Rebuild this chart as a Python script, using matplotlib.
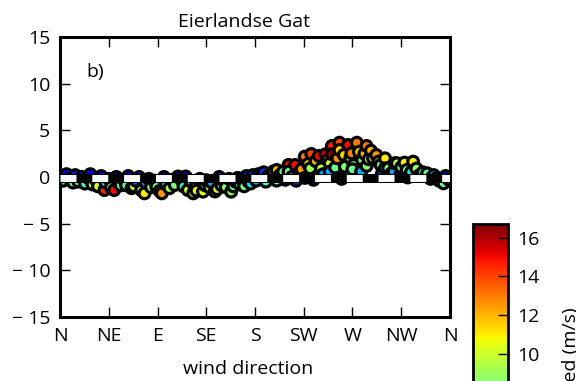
import numpy as np
import matplotlib
matplotlib.use('Agg')
import matplotlib.pyplot as plt

plt.rcParams['font.family'] = ['Open Sans', 'DejaVu Sans']
plt.rcParams['font.size'] = 14
plt.rcParams['lines.scale_dashes'] = False

title = 'Eierlandse Gat'
dir_labels = ['N', 'NE', 'E', 'SE', 'S', 'SW', 'W', 'NW', 'N']
dir_ticks = [0, 45, 90, 135, 180, 225, 270, 315, 360]
y_ticks = [15, 10, 5, 0, -5, -10, -15]
y_labels = ['15', '10', '5', '0', '\u2212 5', '\u2212 10', '\u2212 15']
cb_ticks = [8, 10, 12, 14, 16]

# wind direction (deg), value, wind speed (m/s)
direction = [1, 3, 6, 9, 12, 14, 17, 20, 23, 26, 28, 30, 33, 35, 38, 41, 42, 45, 47, 50, 52, 54,
             56, 59, 61, 63, 66, 68, 70, 73, 75, 78, 79, 82, 84, 87, 89, 92, 94, 96, 98,
             101, 103, 106, 109, 112, 114, 116, 118, 121, 123, 125, 126, 129, 132, 134, 135, 138, 140, 143, 145,
             147, 149, 151, 153, 156, 158, 160, 162, 164, 166, 168, 170, 172, 174, 176, 178,
             181, 183, 186, 188, 190, 192, 195, 197, 200, 200, 203, 206, 208, 211, 211, 214, 217, 218, 221, 223, 226, 226,
             229, 231, 232, 234, 236, 239, 241, 243, 245, 247, 249, 249, 251, 251, 254, 256, 258, 258, 260, 262, 263,
             266, 268, 269, 271, 270, 274, 276, 278, 279, 281, 283, 283, 285, 287, 289, 292, 294, 296, 297, 300, 300, 303,
             306, 308, 309, 311, 314, 315, 318, 320, 321, 324, 326, 329, 332, 335, 339, 342, 345, 348, 350, 354, 356, 359]
value = [0.1, -0.4, 0.3, -0.2, -0.6, 0.2, -0.5, 0.0, -0.7, -0.1, 0.3, -0.8, -0.3, -1.0, 0.1, -1.4, -0.6, -0.2, -1.1, -1.4, 0.0, -0.6,
         -0.9, -0.3, -0.9, 0.1, -1.2, -1.0, -0.4, 0.0, -1.4, -1.75, -0.6, -0.2, -1.1, -0.4, -1.05, -1.5, -1.75, 0.0, -0.8,
         -1.2, -0.3, -0.86, 0.05, -0.3, -1.0, 0.05, -1.4, -0.5, -1.75, -1.1, -1.46, -0.2, -1.57, -0.9, -0.35, -1.1, -0.6, -1.55, -1.3,
         0.0, -0.9, -0.4, -1.1, -0.2, -1.57, -1.0, -0.5, -0.1, -0.8, -0.3, -1.0, 0.1, -0.5, -0.7, 0.2,
         -0.4, 0.3, 0.3, 0.5, -0.5, 0.1, 0.21, 0.6, 0.75, -0.39, 0.2, 0.57, -0.3, 1.29, 0.57, 0.0, 1.29, -0.4, 0.5, 0.82, 2.18, -0.1,
         1.39, 0.93, 2.46, -0.3, 1.7, 2.25, 0.93, 0.3, 2.43, 1.8, 1.47, 0.57, 3.32, 2.43, 1.0, 2.0, 3.67, 2.89, -0.2, 2.36, 1.1,
         3.43, 2.0, 2.54, 1.29, 0.82, 3.67, 2.7, 0.57, 1.82, 2.5, 3.32, 1.18, 1.9, 2.82, 2.0, 2.36, 1.64, 1.29, 0.3, 2.0, 0.93, 0.93,
         0.4, 0.57, 1.47, 1.47, 0.2, 1.04, 1.54, 0.75, -0.05, 0.5, 1.64, 0.9, 0.2, 0.5, 0.39, -0.2, 0.2, -0.1, -0.4, -0.68, 0.1, -0.3]
speed = [3, 6, 2, 5, 7.5, 2.5, 8, 3, 7, 1.5, 2, 9, 4, 10, 2, 14.5, 6, 2.5, 9, 15, 1.5, 5,
         8, 3, 8, 2, 10, 9.5, 4, 2, 10, 11, 4.5, 3, 8.5, 1.5, 8, 10.5, 12.5, 2, 6,
         9, 3, 8.5, 2, 4.5, 7, 1.5, 10, 5, 11, 9, 10.5, 2, 10.5, 7.5, 2, 9, 5, 10, 10.5,
         2.5, 8, 3, 8.5, 2, 9, 8, 1.5, 3, 7, 7, 8.5, 2.5, 2, 6, 3,
         5, 4, 4, 3, 7, 2.5, 12, 8, 12, 8, 4, 8, 2, 15, 8, 5, 15, 3, 6, 12.5, 13, 2.5,
         11, 9, 14, 2, 12, 15, 9.5, 5, 15.5, 12, 10, 5, 14.5, 16.5, 8, 12.5, 14, 11.5, 2, 11.5, 8.5,
         15, 10.5, 13, 8, 8, 13, 11.5, 5, 8.5, 12, 13, 8.5, 10, 12, 11.5, 12.5, 8.5, 8, 3, 11, 8, 8.5,
         4, 5, 10, 9.5, 2, 8, 11, 8, 1.5, 6, 11, 9, 3, 7, 8, 2, 5, 1, 6, 8, 2, 4]
mean_line = -0.15

fig = plt.figure(figsize=(5.76, 3.81), dpi=100)
ax = fig.add_axes([0.1042, 0.168, 0.677, 0.735])
cax = fig.add_axes([0.821, -0.436, 0.0608, 0.848])

sc = ax.scatter(direction, value, c=speed, cmap='jet', vmin=0, vmax=16.7,
                s=60, edgecolors='black', linewidths=2.3, zorder=2)
ax.axhline(mean_line, color='black', lw=6.5, zorder=3)
ax.axhline(mean_line, color='white', lw=5, dashes=(11.5, 11.4), zorder=4)

ax.set_xlim(0, 360)
ax.set_ylim(-15, 15)
ax.set_xticks(dir_ticks)
ax.set_xticklabels(dir_labels)
ax.set_yticks(y_ticks)
ax.set_yticklabels(y_labels)
ax.tick_params(direction='in', length=7, width=1, top=True, right=True, pad=7)
for sp in ax.spines.values():
    sp.set_linewidth(2.2)

ax.set_title(title, x=0.472, fontsize=14, pad=7)
ax.set_xlabel('wind direction', fontsize=14)
ax.xaxis.set_label_coords(0.483, -0.155)
ax.text(0.067, 0.875, 'b)', transform=ax.transAxes, fontsize=14, va='center')

cb = fig.colorbar(sc, cax=cax)
cb.set_ticks(cb_ticks)
cb.ax.tick_params(direction='in', length=7, width=1, pad=7)
cb.outline.set_linewidth(2)
cb.set_label('wind speed (m/s)', fontsize=14)
cax.yaxis.set_label_coords(2.54, 0.5)

fig.savefig('out.png', dpi=100)
